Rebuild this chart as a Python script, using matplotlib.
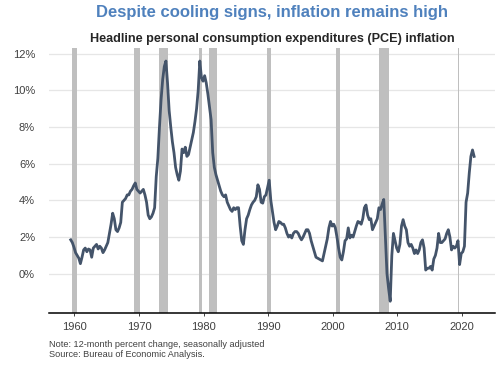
import matplotlib
matplotlib.use('Agg')
import matplotlib.pyplot as plt
import numpy as np

plt.rcParams['font.family'] = ['Liberation Sans', 'DejaVu Sans']

# quarterly 12-month % change in headline PCE price index, 1960Q1 - 2022Q3
pce_yoy = [
    1.85, 1.7, 1.45, 1.15,   # 1960
    1.0, 0.85, 0.55, 0.9,    # 1961
    1.3, 1.4, 1.2, 1.35,     # 1962
    1.3, 0.9, 1.4, 1.5,      # 1963
    1.6, 1.35, 1.5, 1.4,     # 1964
    1.15, 1.3, 1.5, 1.7,     # 1965
    2.2, 2.7, 3.3, 3.0,      # 1966
    2.4, 2.3, 2.5, 2.8,      # 1967
    3.9, 4.0, 4.1, 4.3,      # 1968
    4.3, 4.5, 4.6, 4.8,      # 1969
    4.95, 4.6, 4.5, 4.4,     # 1970
    4.5, 4.6, 4.3, 3.9,      # 1971
    3.2, 3.0, 3.1, 3.3,      # 1972
    3.6, 5.3, 6.3, 8.0,      # 1973
    9.5, 10.6, 11.3, 11.6,   # 1974
    10.4, 8.9, 8.0, 7.2,     # 1975
    6.6, 5.8, 5.4, 5.1,      # 1976
    5.6, 6.8, 6.6, 6.9,      # 1977
    6.4, 6.5, 6.9, 7.3,      # 1978
    7.7, 8.3, 9.0, 10.0,     # 1979
    11.6, 10.7, 10.5, 10.8,  # 1980
    10.4, 9.8, 9.1, 8.4,     # 1981
    6.6, 5.8, 5.4, 5.1,      # 1982
    4.8, 4.5, 4.3, 4.2,      # 1983
    4.3, 3.9, 3.7, 3.5,      # 1984
    3.4, 3.6, 3.5, 3.6,      # 1985
    3.6, 2.6, 1.8, 1.6,      # 1986
    2.4, 3.0, 3.2, 3.5,      # 1987
    3.75, 3.9, 4.0, 4.2,     # 1988
    4.85, 4.6, 3.9, 3.85,    # 1989
    4.2, 4.3, 4.7, 5.1,      # 1990
    4.0, 3.4, 2.8, 2.4,      # 1991
    2.6, 2.85, 2.8, 2.7,     # 1992
    2.7, 2.5, 2.2, 2.0,      # 1993
    2.1, 1.95, 2.2, 2.3,     # 1994
    2.3, 2.2, 2.0, 1.85,     # 1995
    2.0, 2.2, 2.4, 2.4,      # 1996
    2.2, 1.8, 1.5, 1.2,      # 1997
    0.9, 0.85, 0.8, 0.75,    # 1998
    0.7, 1.1, 1.5, 1.9,      # 1999
    2.5, 2.85, 2.6, 2.7,     # 2000
    2.5, 2.0, 1.4, 0.9,      # 2001
    0.75, 1.2, 1.8, 1.9,     # 2002
    2.5, 1.95, 2.1, 2.0,     # 2003
    2.3, 2.6, 2.85, 2.8,     # 2004
    2.7, 3.0, 3.6, 3.75,     # 2005
    3.2, 2.95, 3.0, 2.4,     # 2006
    2.6, 2.8, 3.0, 3.6,      # 2007
    3.5, 3.8, 4.05, 2.0,     # 2008
    0.0, -0.8, -1.5, 1.0,    # 2009
    2.2, 1.8, 1.4, 1.2,      # 2010
    1.6, 2.6, 2.95, 2.6,     # 2011
    2.4, 1.7, 1.5, 1.6,      # 2012
    1.4, 1.1, 1.3, 1.1,      # 2013
    1.3, 1.7, 1.85, 1.4,     # 2014
    0.2, 0.3, 0.3, 0.4,      # 2015
    0.2, 0.8, 1.0, 1.4,      # 2016
    2.2, 1.7, 1.7, 1.8,      # 2017
    1.9, 2.2, 2.4, 2.0,      # 2018
    1.3, 1.5, 1.4, 1.5,      # 2019
    1.8, 0.5, 1.1, 1.2,      # 2020
    1.5, 3.9, 4.4, 5.5,      # 2021
    6.4, 6.75, 6.4,          # 2022
]
FIRST_YEAR = 1960

# NBER recessions (start, end) in decimal years
recessions = [
    (1960.25, 1961.08), (1969.92, 1970.83), (1973.83, 1975.17),
    (1980.0, 1980.5), (1981.5, 1982.83), (1990.5, 1991.17),
    (2001.17, 2001.83), (2007.92, 2009.42), (2020.08, 2020.25),
]

tick_years = [1960, 1970, 1980, 1990, 2000, 2010, 2020]
y_ticks = [0, 2, 4, 6, 8, 10, 12]


def main():
    n = len(pce_yoy)
    x = FIRST_YEAR + (np.arange(n) + 0.5) / 4.0

    fig = plt.figure(figsize=(5, 3.65), dpi=100)
    ax = fig.add_axes([0.098, 0.1425, 0.892, 0.726])

    for start, end in recessions:
        ax.axvspan(start, end, color='#bfbfbf', lw=0, zorder=1)

    ax.plot(x, pce_yoy, color='#44546a', lw=2.0, zorder=3,
            solid_joinstyle='round')

    ax.set_ylim(-2.14, 12.31)
    ax.set_xlim(1956.76, 2025.86)
    ax.set_yticks(y_ticks)
    ax.set_yticklabels(['{}%'.format(v) for v in y_ticks])
    # tick labels sit slightly left of each calendar year in the original
    ax.set_xticks([yr + 0.7 for yr in tick_years])
    ax.set_xticklabels([str(yr) for yr in tick_years])

    ax.grid(axis='y', color='#e6e6e6', lw=0.9, zorder=0)
    ax.set_axisbelow(True)
    for side in ['top', 'right', 'left']:
        ax.spines[side].set_visible(False)
    ax.spines['bottom'].set_color('black')
    ax.spines['bottom'].set_linewidth(1.1)
    ax.spines['bottom'].set_zorder(4)

    ax.tick_params(axis='y', length=0, pad=10, labelsize=8, labelcolor='#404040')
    ax.tick_params(axis='x', length=2.5, width=0.7, pad=4, labelsize=8,
                   labelcolor='#404040', color='#404040')

    fig.text(0.544, 0.967, 'Despite cooling signs, inflation remains high',
             ha='center', va='center', fontsize=12.0, fontweight='bold',
             color='#4f81bd')
    fig.text(0.545, 0.893, 'Headline personal consumption expenditures (PCE) inflation',
             ha='center', va='center', fontsize=9.1, fontweight='bold',
             color='#262626')
    fig.text(0.098, 0.0575, 'Note: 12-month percent change, seasonally adjusted',
             ha='left', va='center', fontsize=6.6, color='#404040')
    fig.text(0.098, 0.030, 'Source: Bureau of Economic Analysis.',
             ha='left', va='center', fontsize=6.6, color='#404040')

    fig.savefig('out.png', dpi=100)


if __name__ == '__main__':
    main()
